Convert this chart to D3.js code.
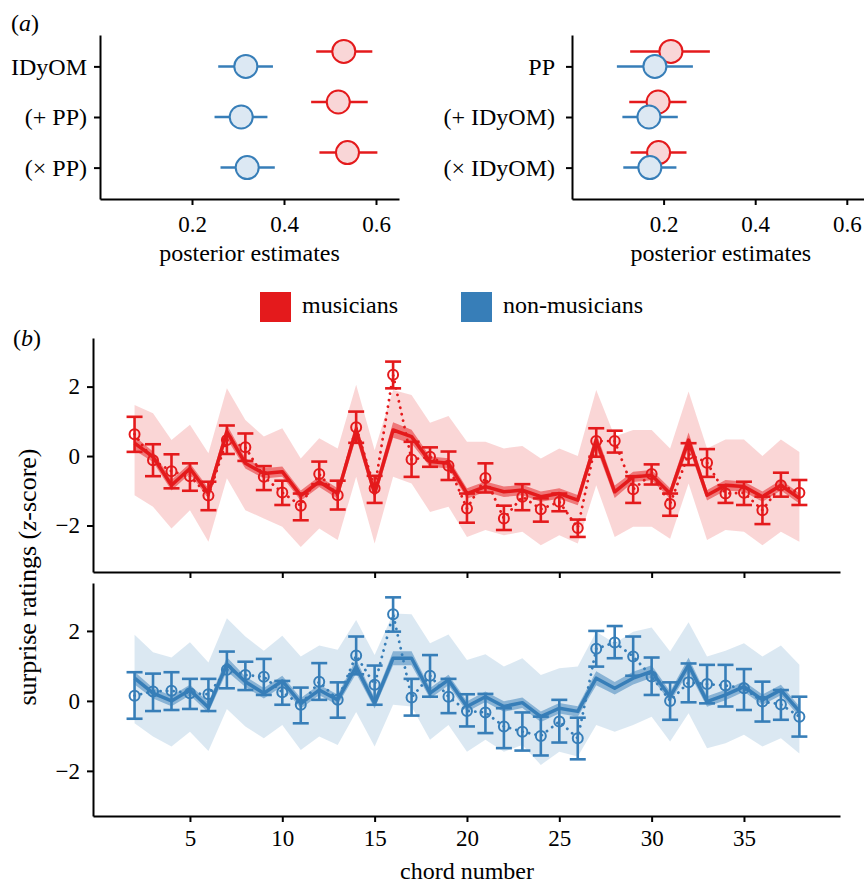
<!DOCTYPE html>
<html>
<head>
<meta charset="UTF-8">
<style>
  body { margin: 0; background: #fff; }
  svg { display: block; font-family: "Liberation Serif", Tinos, "Times New Roman", "DejaVu Serif", serif; }
  .axis path, .axis line { stroke: #000; stroke-width: 2; }
  .axis text { font-family: "Liberation Serif", Tinos, "Times New Roman", "DejaVu Serif", serif; font-size: 23px; fill: #000; }
</style>
</head>
<body>
<svg width="864" height="883"></svg>
<script src="https://d3js.org/d3.v7.min.js"></script>
<script>
// ---- panel (a): posterior estimates ----
const modelsLeft = ["IDyOM", "(+ PP)", "(\u00d7 PP)"];
const leftMus   = [0.530, 0.518, 0.538];
const leftMusLo = [0.470, 0.459, 0.477];
const leftMusHi = [0.592, 0.582, 0.603];
const leftNon   = [0.317, 0.307, 0.320];
const leftNonLo = [0.257, 0.249, 0.262];
const leftNonHi = [0.376, 0.364, 0.380];

const modelsRight = ["PP", "(+ IDyOM)", "(\u00d7 IDyOM)"];
const rightMus   = [0.216, 0.188, 0.189];
const rightMusLo = [0.127, 0.125, 0.128];
const rightMusHi = [0.301, 0.250, 0.250];
const rightNon   = [0.181, 0.168, 0.170];
const rightNonLo = [0.098, 0.110, 0.112];
const rightNonHi = [0.264, 0.231, 0.228];

const estTicks = [0.2, 0.4, 0.6];

// ---- panel (b): surprise ratings per chord ----
const chords = [2,3,4,5,6,7,8,9,10,11,12,13,14,15,16,17,18,19,20,21,22,23,24,25,26,27,28,29,30,31,32,33,34,35,36,37,38];
const chordTicks = [5, 10, 15, 20, 25, 30, 35];
const zTicks = [-2, 0, 2];

// musicians
const musObs   = [0.63,-0.12,-0.44,-0.58,-1.14,0.46,0.25,-0.6,-1.05,-1.43,-0.52,-1.13,0.83,-0.93,2.34,-0.1,-0.02,-0.28,-1.51,-0.63,-1.8,-1.17,-1.53,-1.32,-2.07,0.43,0.43,-0.96,-0.52,-1.38,0.06,-0.19,-1.08,-1.06,-1.56,-0.84,-1.06];
const musObsLo = [0.12,-0.58,-0.93,-1.0,-1.56,0.06,-0.14,-0.98,-1.41,-1.85,-0.81,-1.54,0.38,-1.35,1.95,-0.6,-0.31,-0.69,-1.92,-1.05,-2.13,-1.56,-1.89,-1.59,-2.33,-0.02,0.1,-1.35,-0.82,-1.72,-0.26,-0.6,-1.35,-1.41,-1.96,-1.17,-1.41];
const musObsHi = [1.13,0.34,0.05,-0.21,-0.74,0.88,0.65,-0.29,-0.71,-1.08,-0.16,-0.71,1.28,-0.57,2.72,0.41,0.25,0.13,-1.08,-0.21,-1.43,-0.81,-1.22,-1.08,-1.83,0.8,0.73,-0.58,-0.24,-1.08,0.37,0.2,-0.84,-0.74,-1.17,-0.48,-0.69];
const musFit   = [0.37,-0.02,-0.84,-0.36,-1.08,0.70,-0.21,-0.5,-0.45,-1.14,-0.74,-1.08,0.75,-1.08,0.75,0.56,-0.16,-0.21,-1.08,-0.88,-1.03,-0.98,-1.17,-1.08,-1.27,0.46,-1.03,-0.6,-0.55,-1.08,0.46,-1.13,-0.84,-0.88,-1.17,-0.84,-1.22];
const musFitCI = [0.2,0.15,0.15,0.15,0.15,0.2,0.15,0.15,0.15,0.15,0.15,0.15,0.22,0.18,0.22,0.2,0.15,0.15,0.15,0.15,0.15,0.15,0.15,0.15,0.15,0.22,0.18,0.15,0.15,0.15,0.22,0.15,0.15,0.15,0.15,0.15,0.15];
const musPredLo = [-1.13,-1.46,-2.09,-1.56,-2.47,-0.64,-1.56,-1.8,-2.04,-2.62,-2.09,-2.42,-0.6,-2.52,-0.6,-0.79,-1.61,-1.46,-2.33,-2.13,-2.28,-2.18,-2.57,-2.28,-2.52,-0.84,-2.33,-2.04,-2.04,-2.38,-0.79,-2.42,-2.13,-2.18,-2.57,-2.18,-2.47];
const musPredHi = [1.47,1.23,0.46,0.9,0.08,1.95,1.04,0.56,0.8,-0.07,0.51,0.22,2.05,0.17,1.9,1.76,0.96,1.15,0.41,0.41,0.22,0.29,-0.07,0.22,0.0,1.9,0.56,0.75,0.75,0.22,1.86,0.22,0.48,0.48,0.0,0.48,0.12];

// non-musicians
const nonObs   = [0.15,0.27,0.29,0.22,0.19,0.89,0.74,0.69,0.25,-0.11,0.55,0.03,1.3,0.46,2.48,0.1,0.72,0.12,-0.29,-0.33,-0.73,-0.88,-1.0,-0.59,-1.07,1.49,1.67,1.27,0.7,0.0,0.53,0.48,0.44,0.36,-0.02,-0.1,-0.45];
const nonObsLo = [-0.51,-0.29,-0.26,-0.23,-0.29,0.36,0.31,0.17,-0.11,-0.64,0.03,-0.48,0.76,-0.11,1.98,-0.42,0.12,-0.35,-0.73,-0.92,-1.35,-1.42,-1.56,-1.19,-1.67,0.98,1.22,0.72,0.17,-0.54,-0.04,-0.07,-0.16,-0.26,-0.59,-0.54,-1.02];
const nonObsHi = [0.82,0.78,0.82,0.63,0.63,1.41,1.12,1.2,0.57,0.38,1.08,0.53,1.84,1.01,2.96,0.63,1.31,0.63,0.19,0.2,-0.21,-0.33,-0.45,0.03,-0.48,2.0,2.14,1.84,1.24,0.53,1.07,1.03,1.03,0.91,0.55,0.31,0.12];
const nonFit   = [0.65,0.22,0.0,0.31,-0.19,1.05,0.55,0.22,0.57,-0.07,0.31,0.03,0.98,-0.07,1.22,1.22,0.22,0.6,-0.16,0.12,-0.16,-0.05,-0.45,-0.21,-0.3,0.65,0.36,0.65,0.84,0.12,1.03,-0.02,0.17,0.41,0.03,0.31,-0.3];
const nonFitCI = [0.18,0.15,0.15,0.15,0.15,0.2,0.15,0.15,0.15,0.15,0.15,0.15,0.2,0.15,0.2,0.2,0.15,0.15,0.15,0.15,0.15,0.15,0.15,0.15,0.15,0.2,0.18,0.18,0.18,0.15,0.2,0.15,0.15,0.15,0.15,0.15,0.15];
const nonPredLo = [-0.64,-1.02,-1.3,-0.88,-1.43,-0.23,-0.73,-1.07,-0.69,-1.4,-1.02,-1.26,-0.32,-1.3,-0.11,-0.16,-1.11,-0.69,-1.45,-1.11,-1.45,-1.26,-1.83,-1.45,-1.59,-0.69,-0.88,-0.69,-0.45,-1.16,-0.35,-1.35,-1.21,-0.97,-1.3,-1.07,-1.5];
const nonPredHi = [1.89,1.39,1.24,1.68,1.1,2.36,1.84,1.43,1.86,1.27,1.58,1.46,2.31,1.31,2.5,2.48,1.65,1.9,1.17,1.33,0.98,1.22,0.74,0.93,0.98,1.98,1.65,1.98,2.1,1.41,2.25,1.27,1.43,1.65,1.27,1.58,1.03];

const RED = "#e41a1c", BLUE = "#377eb8";
const RED_FILL = "#f9d6d7", BLUE_FILL = "#dce8f3";

let svg = d3.select("svg");

// panel labels
function panelLabel(x, y, letter) {
  let t = svg.append("text").attr("x", x).attr("y", y).attr("font-size", "24px");
  t.append("tspan").text("(");
  t.append("tspan").attr("font-style", "italic").text(letter);
  t.append("tspan").text(")");
}
panelLabel(11, 31, "a");
panelLabel(13, 346, "b");

// ---------- panel (a) ----------
function forest(cats, xLeft, xRight, labelPad, mus, musLo, musHi, non, nonLo, nonHi) {
  let x = d3.scaleLinear().domain([0, 0.65]).range([xLeft, xRight]);
  let y = d3.scalePoint().domain(cats).range([35, 199]).padding(0.62);
  let g = svg.append("g");

  g.append("g").attr("class", "axis")
    .attr("transform", "translate(0,199)")
    .call(d3.axisBottom(x).tickValues(estTicks).tickFormat(d3.format(".1f")).tickSize(6).tickSizeOuter(0).tickPadding(11));
  g.append("g").attr("class", "axis")
    .attr("transform", `translate(${xLeft},0)`)
    .call(d3.axisLeft(y).tickSize(6).tickSizeOuter(0).tickPadding(labelPad))
    .selectAll("text").style("font-size", "24px");

  g.append("text")
    .attr("x", (xLeft + xRight) / 2).attr("y", 261)
    .attr("text-anchor", "middle").attr("font-size", "24px")
    .text("posterior estimates");

  let groups = [
    { est: mus, lo: musLo, hi: musHi, off: -15, col: RED, fill: RED_FILL },
    { est: non, lo: nonLo, hi: nonHi, off: 0, col: BLUE, fill: BLUE_FILL }
  ];
  groups.forEach(s => {
    cats.forEach((c, i) => {
      let cy = y(c) + s.off;
      g.append("line")
        .attr("x1", x(s.lo[i])).attr("x2", x(s.hi[i]))
        .attr("y1", cy).attr("y2", cy)
        .attr("stroke", s.col).attr("stroke-width", 2.5);
      g.append("circle")
        .attr("cx", x(s.est[i])).attr("cy", cy).attr("r", 11.5)
        .attr("fill", s.fill).attr("stroke", s.col).attr("stroke-width", 2);
    });
  });
}
forest(modelsLeft, 100, 399, 7, leftMus, leftMusLo, leftMusHi, leftNon, leftNonLo, leftNonHi);
forest(modelsRight, 572, 869.7, 11, rightMus, rightMusLo, rightMusHi, rightNon, rightNonLo, rightNonHi);

// legend
let legend = svg.append("g");
[{ name: "musicians", col: RED, x: 260 }, { name: "non-musicians", col: BLUE, x: 461 }].forEach(l => {
  legend.append("rect").attr("x", l.x).attr("y", 292).attr("width", 31).attr("height", 30).attr("fill", l.col);
  legend.append("text").attr("x", l.x + 42).attr("y", 313).attr("font-size", "24px").text(l.name);
});

// ---------- panel (b) ----------
let xc = d3.scaleLinear().domain([-0.25, 40.2]).range([93, 840]);

function ratings(top, bottom, dom, col, showX, obs, obsLo, obsHi, fit, fitCI, predLo, predHi) {
  let y = d3.scaleLinear().domain(dom).range([bottom, top]);
  let g = svg.append("g");
  let rows = chords.map((c, i) => ({
    c: c, obs: obs[i], lo: obsLo[i], hi: obsHi[i],
    fit: fit[i], ci: fitCI[i], pLo: predLo[i], pHi: predHi[i]
  }));

  g.append("path").datum(rows)
    .attr("fill", col).attr("fill-opacity", 0.18)
    .attr("d", d3.area().x(d => xc(d.c)).y0(d => y(d.pLo)).y1(d => y(d.pHi)));
  g.append("path").datum(rows)
    .attr("fill", col).attr("fill-opacity", 0.5)
    .attr("d", d3.area().x(d => xc(d.c)).y0(d => y(d.fit - d.ci)).y1(d => y(d.fit + d.ci)));
  g.append("path").datum(rows)
    .attr("fill", "none").attr("stroke", col).attr("stroke-width", 3.5).attr("stroke-linejoin", "round")
    .attr("d", d3.line().x(d => xc(d.c)).y(d => y(d.fit)));
  g.append("path").datum(rows)
    .attr("fill", "none").attr("stroke", col).attr("stroke-width", 2.8)
    .attr("stroke-linecap", "round").attr("stroke-dasharray", "0.1,6.5")
    .attr("d", d3.line().x(d => xc(d.c)).y(d => y(d.obs)));

  let eb = g.append("g").attr("stroke", col).attr("stroke-width", 2.6).attr("fill", "none");
  rows.forEach(d => {
    let cx = xc(d.c);
    eb.append("line").attr("x1", cx).attr("x2", cx).attr("y1", y(d.lo)).attr("y2", y(d.hi));
    eb.append("line").attr("x1", cx - 8).attr("x2", cx + 8).attr("y1", y(d.lo)).attr("y2", y(d.lo));
    eb.append("line").attr("x1", cx - 8).attr("x2", cx + 8).attr("y1", y(d.hi)).attr("y2", y(d.hi));
    eb.append("circle").attr("cx", cx).attr("cy", y(d.obs)).attr("r", 5).attr("stroke-width", 2);
  });

  g.append("g").attr("class", "axis")
    .attr("transform", "translate(93,0)")
    .call(d3.axisLeft(y).tickValues(zTicks).tickFormat(d3.format("d")).tickSize(6).tickSizeOuter(0).tickPadding(7));
  let xa = d3.axisBottom(xc).tickValues(chordTicks).tickFormat(d3.format("d")).tickSize(6).tickSizeOuter(0).tickPadding(8);
  if (!showX) xa.tickFormat("");
  g.append("g").attr("class", "axis")
    .attr("transform", `translate(0,${bottom})`)
    .call(xa);
}
ratings(338, 572, [-3.34, 3.4], RED, false, musObs, musObsLo, musObsHi, musFit, musFitCI, musPredLo, musPredHi);
ratings(583, 816, [-3.29, 3.37], BLUE, true, nonObs, nonObsLo, nonObsHi, nonFit, nonFitCI, nonPredLo, nonPredHi);

svg.append("text")
  .attr("x", 467).attr("y", 879)
  .attr("text-anchor", "middle").attr("font-size", "24px")
  .text("chord number");

let ylab = svg.append("text")
  .attr("transform", "translate(36,577) rotate(-90)")
  .attr("text-anchor", "middle").attr("font-size", "26px");
ylab.append("tspan").text("surprise ratings (");
ylab.append("tspan").attr("font-style", "italic").text("z");
ylab.append("tspan").text("-score)");
</script>
</body>
</html>
